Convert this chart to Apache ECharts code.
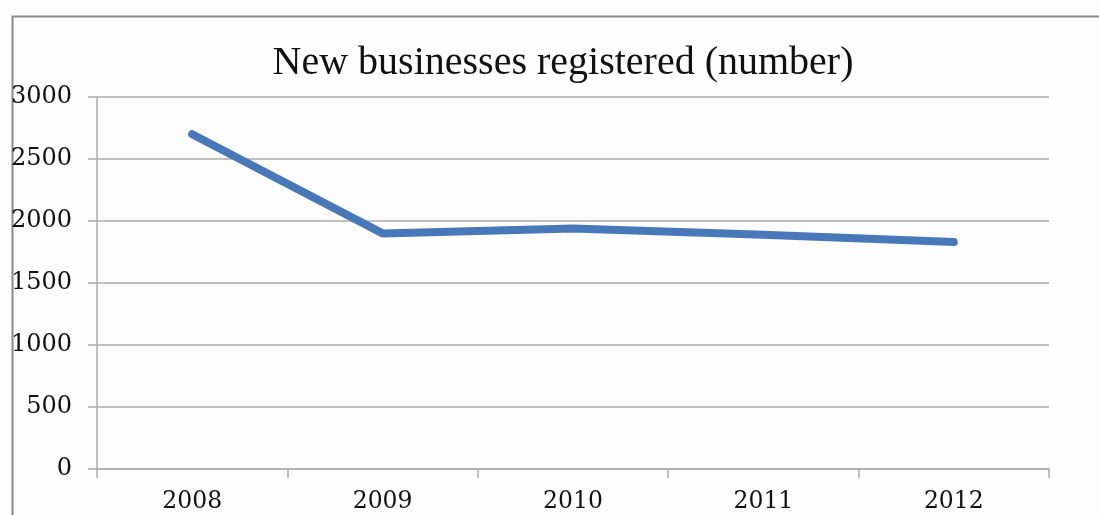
<!DOCTYPE html>
<html>
<head>
<meta charset="utf-8">
<script src="https://cdn.jsdelivr.net/npm/echarts@6/dist/echarts.min.js"></script>
<style>
html,body{margin:0;padding:0;background:#fdfdfd;}
#chart{width:1099px;height:515px;}
</style>
</head>
<body>
<div id="chart"></div>
<script>
const years = ['2008', '2009', '2010', '2011', '2012'];
const newBusinesses = [2700, 1900, 1940, 1890, 1830];
const titleText = 'New businesses registered (number)';

const chart = echarts.init(document.getElementById('chart'));
const serif = '"Liberation Serif", "DejaVu Serif", serif';
const labelFont = '"DejaVu Serif", serif';
const gridColor = '#ababab';
chart.setOption({
  backgroundColor: '#fdfdfd',
  animation: false,
  title: {
    text: titleText,
    left: 558, textAlign: 'center',
    top: 38,
    textStyle: { fontFamily: serif, fontSize: 40, fontWeight: 'normal', color: '#111' }
  },
  graphic: [{
    type: 'rect', left: 10, top: 14, silent: true,
    shape: { width: 1200, height: 600 },
    style: { fill: 'none', stroke: '#8a8a8a', lineWidth: 2 }
  }],
  grid: { left: 97, right: 50, top: 97, bottom: 46, containLabel: false },
  xAxis: {
    type: 'category', data: years, boundaryGap: true,
    axisLine: { lineStyle: { color: gridColor, width: 1.5 } },
    axisTick: { show: true, length: 9, alignWithLabel: false, lineStyle: { color: gridColor, width: 1.5 } },
    axisLabel: { fontFamily: labelFont, fontSize: 23.5, color: '#111', margin: 21 }
  },
  yAxis: {
    type: 'value', min: 0, max: 3000, interval: 500,
    axisLine: { show: true, lineStyle: { color: gridColor, width: 1.5 } },
    axisTick: { show: true, length: 9, lineStyle: { color: gridColor, width: 1.5 } },
    splitLine: { lineStyle: { color: gridColor, width: 1.5 } },
    axisLabel: { fontFamily: labelFont, fontSize: 24, color: '#111', margin: 25, formatter: v => String(v) }
  },
  series: [{
    type: 'line', data: newBusinesses,
    symbol: 'none',
    lineStyle: { color: '#4878b8', width: 8, cap: 'round', join: 'round' }
  }]
});
</script>
</body>
</html>
